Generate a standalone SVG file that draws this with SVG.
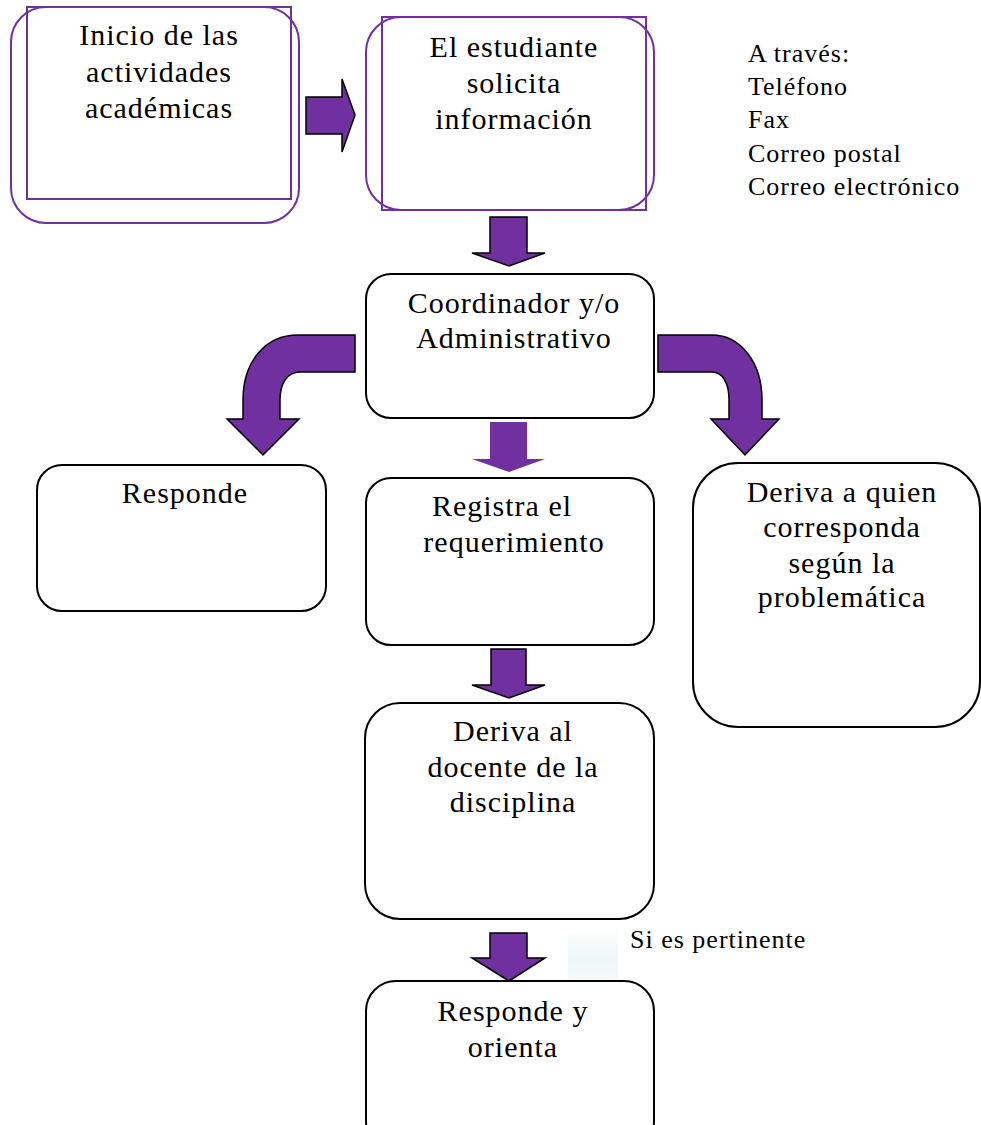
<svg xmlns="http://www.w3.org/2000/svg" width="981" height="1125" viewBox="0 0 981 1125">
<defs>
<style>
.t{font-family:"Liberation Serif","Times New Roman",serif;font-size:30px;letter-spacing:1px;fill:#000;text-anchor:middle}
.s{font-family:"Liberation Serif","Times New Roman",serif;font-size:26px;letter-spacing:1px;fill:#000}
.pb{fill:#fff;stroke:#7030A0;stroke-width:2}
.pr{fill:none;stroke:#7030A0;stroke-width:2}
.bb{fill:#fff;stroke:#000;stroke-width:2}
.ar{fill:#7030A0;stroke:#000;stroke-width:1.5;stroke-linejoin:miter}
.an{fill:#7030A0;stroke:none}
</style>
<linearGradient id="fade" x1="0" y1="0" x2="0" y2="1">
<stop offset="0" stop-color="#ffffff"/>
<stop offset="0.5" stop-color="#eef6f6"/>
<stop offset="1" stop-color="#f6fbfa"/>
</linearGradient>
</defs>
<rect width="981" height="1125" fill="#fff"/>

<g id="connectors">
<path class="ar" d="M306,97 H342 V79 L355,115 L342,152 V134 H306 Z"/>
<path class="ar" d="M490,217 H527 V253 H545 L509,266 L472,253 H490 Z"/>
<path class="ar" d="M355,335 L298,335 C265,335 243,362 243,400 L243,419 L227,419 L263,455 L299,419 L280,419 L280,400 C280,382 288,372 300,372 L355,372 Z"/>
<path class="ar" d="M658,335 L712,335 C740,335 762,362 762,400 L762,419 L779,419 L745,455 L711,419 L729,419 L729,400 C729,382 722,372 712,372 L658,372 Z"/>
<path class="an" d="M490,422 H527 V459 H545 L509,472 L472,459 H490 Z"/>
<path class="ar" d="M491,649 H526 V685 H545 L509,698 L472,685 H491 Z"/>
<path class="ar" d="M490,933 H527 V958 H545 L509,981 L472,958 H490 Z"/>
</g>

<g id="n-inicio">
<rect class="pb" x="11" y="7" width="288" height="216" rx="35"/>
<rect class="pr" x="27" y="7" width="264" height="192"/>
<text class="t" x="159" y="45">Inicio de las</text>
<text class="t" x="159" y="82">actividades</text>
<text class="t" x="159" y="118">académicas</text>
</g>

<g id="n-estudiante">
<rect class="pb" x="366" y="17" width="288" height="193" rx="35"/>
<rect class="pr" x="382" y="17" width="264" height="193"/>
<text class="t" x="514" y="57">El estudiante</text>
<text class="t" x="514" y="93">solicita</text>
<text class="t" x="514" y="129">información</text>
</g>

<g id="n-traves">
<text class="s" x="748" y="62">A través:</text>
<text class="s" x="748" y="95">Teléfono</text>
<text class="s" x="748" y="128">Fax</text>
<text class="s" x="748" y="162">Correo postal</text>
<text class="s" x="748" y="195">Correo electrónico</text>
</g>

<g id="n-coordinador">
<rect class="bb" x="366" y="274" width="288" height="144" rx="25"/>
<text class="t" x="514" y="313">Coordinador y/o</text>
<text class="t" x="514" y="348">Administrativo</text>
</g>

<g id="n-responde">
<rect class="bb" x="37" y="465" width="289" height="146" rx="25"/>
<text class="t" x="185" y="503">Responde</text>
</g>

<g id="n-registra">
<rect class="bb" x="366" y="478" width="288" height="167" rx="25"/>
<text class="t" x="502" y="516">Registra el</text>
<text class="t" x="514" y="552">requerimiento</text>
</g>

<g id="n-deriva-quien">
<rect class="bb" x="693" y="463" width="287" height="264" rx="45"/>
<text class="t" x="842" y="502">Deriva a quien</text>
<text class="t" x="842" y="537">corresponda</text>
<text class="t" x="842" y="573">según la</text>
<text class="t" x="842" y="607">problemática</text>
</g>

<g id="n-deriva-docente">
<rect class="bb" x="365" y="703" width="289" height="216" rx="35"/>
<text class="t" x="513" y="741">Deriva al</text>
<text class="t" x="513" y="777">docente de la</text>
<text class="t" x="513" y="812">disciplina</text>
</g>

<g id="n-pertinente">
<rect x="568" y="928" width="50" height="59" fill="url(#fade)"/>
<text class="s" x="630" y="948">Si es pertinente</text>
</g>

<g id="n-orienta">
<rect class="bb" x="366" y="981" width="288" height="170" rx="30"/>
<text class="t" x="513" y="1021">Responde y</text>
<text class="t" x="513" y="1057">orienta</text>
</g>
</svg>
